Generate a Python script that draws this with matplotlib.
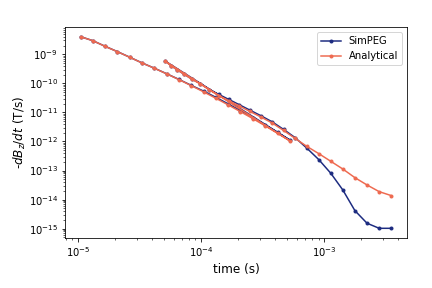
import numpy as np
import matplotlib
matplotlib.use("Agg")
import matplotlib.pyplot as plt

# time channels, two receivers concatenated
times_rx1 = [1.05e-5, 1.32e-5, 1.66e-5, 2.09e-5, 2.64e-5, 3.32e-5, 4.18e-5,
             5.26e-5, 6.63e-5, 8.34e-5, 1.05e-4, 1.32e-4, 1.66e-4, 2.09e-4,
             2.64e-4, 3.32e-4, 4.18e-4, 5.26e-4]
times_rx2 = [5.13e-5, 5.70e-5, 6.42e-5, 7.32e-5, 8.46e-5, 9.89e-5, 1.169e-4,
             1.396e-4, 1.681e-4, 2.041e-4, 2.493e-4, 3.063e-4, 3.780e-4,
             4.683e-4, 5.819e-4, 7.250e-4, 9.051e-4, 1.132e-3, 1.417e-3,
             1.777e-3, 2.229e-3, 2.799e-3, 3.516e-3]

# -dBz/dt (T/s)
simpeg_rx1 = [4.05e-9, 2.95e-9, 1.89e-9, 1.24e-9, 7.9e-10, 5.05e-10, 3.32e-10,
              2.14e-10, 1.36e-10, 8.5e-11, 5.4e-11, 3.3e-11, 1.97e-11,
              1.15e-11, 6.6e-12, 3.7e-12, 2.06e-12, 1.12e-12]
simpeg_rx2 = [5.8e-10, 4.1e-10, 2.9e-10, 2.05e-10, 1.39e-10, 9.8e-11, 6.15e-11,
              4.15e-11, 2.8e-11, 1.85e-11, 1.2e-11, 7.7e-12, 4.75e-12,
              2.6e-12, 1.35e-12, 5.84e-13, 2.37e-13, 8.06e-14, 2.15e-14,
              4.17e-15, 1.54e-15, 1.03e-15, 1.03e-15]

analytic_rx1 = [4.03e-9, 2.94e-9, 1.88e-9, 1.23e-9, 7.88e-10, 5.02e-10, 3.30e-10,
                2.12e-10, 1.34e-10, 8.31e-11, 5.09e-11, 3.06e-11, 1.82e-11,
                1.06e-11, 6.09e-12, 3.44e-12, 1.91e-12, 1.05e-12]
analytic_rx2 = [5.74e-10, 4.05e-10, 2.88e-10, 2.02e-10, 1.36e-10, 9.51e-11,
                5.91e-11, 3.77e-11, 2.53e-11, 1.67e-11, 1.08e-11, 6.97e-12,
                4.33e-12, 2.39e-12, 1.27e-12, 6.74e-13, 3.81e-13, 2.08e-13,
                1.13e-13, 5.69e-14, 3.19e-14, 1.88e-14, 1.37e-14]

times = np.r_[times_rx1, times_rx2]
simpeg = np.r_[simpeg_rx1, simpeg_rx2]
analytic = np.r_[analytic_rx1, analytic_rx2]

fig, ax = plt.subplots(figsize=(6, 4), dpi=72)
fig.subplots_adjust(left=0.1505, right=0.942, bottom=0.174, top=0.906)

ax.loglog(times, simpeg, '.-', color='#1c2b80', lw=1.5, ms=6, label='SimPEG')
ax.loglog(times, analytic, '.-', color='#ee6a50', lw=1.5, ms=6, label='Analytical')

ax.set_xlabel('time (s)', fontsize=12)
ax.set_ylabel('-$dB_z/dt$ (T/s)', fontsize=12, labelpad=1)
ax.legend(loc='upper right')

fig.savefig('out.png', dpi=72)
